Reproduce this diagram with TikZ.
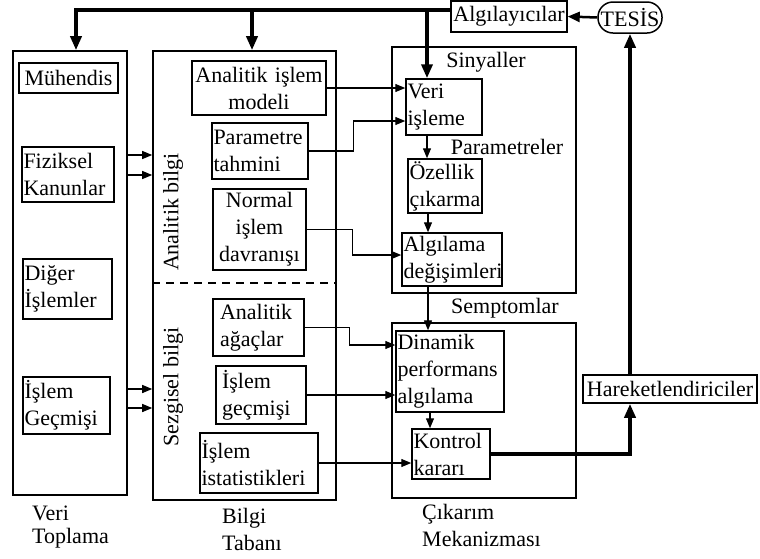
\documentclass[tikz,border=0pt]{standalone}
\usepackage{fontspec}
\setmainfont{Liberation Serif}
\usetikzlibrary{arrows.meta,positioning}

\begin{document}
\begin{tikzpicture}[
    x=1pt, y=-1pt,
    font=\fontsize{22}{27}\selectfont,
    frame/.style={draw, line width=1.6pt, inner sep=0pt},
    cell/.style={draw, line width=1.5pt, inner xsep=1.5pt, inner ysep=2pt, align=left},
    ccell/.style={cell, align=center},
    lbl/.style={inner sep=0pt, align=left},
    arr/.style={-{Triangle[length=10pt,width=8pt]}, line width=1.3pt},
    bus/.style={-{Triangle[length=14pt,width=11pt]}, line width=3.5pt},
  ]
  \useasboundingbox (0,0) rectangle (760,558);
  % outer frames
  \node[frame, minimum width=114, minimum height=444] (toplama) at (70,273) {};
  \node[frame, minimum width=183, minimum height=449] (taban) at (244.5,275.5) {};
  \node[frame, minimum width=184, minimum height=246] (sinyalkutu) at (484,170) {};
  \node[frame, minimum width=184, minimum height=175] (cikarimkutu) at (484,410.5) {};
  % veri toplama
  \node[ccell, text width=96pt, minimum height=30] (muh) at (68.5,78) {Mühendis};
  \node[cell, text width=89pt, minimum height=55] (fizik) at (68,174.5) {Fiziksel\\Kanunlar};
  \node[cell, text width=86pt, minimum height=60] (diger) at (67.5,289) {Diğer\\İşlemler};
  \node[cell, text width=84pt, minimum height=57] (gecmis) at (66.5,405.5) {İşlem\\Geçmişi};
  % bilgi tabani
  \node[ccell, text width=131pt, minimum height=54] (model) at (259,88) {Analitik işlem\\modeli};
  \node[cell, text width=93pt, minimum height=56] (param) at (260,151) {Parametre\\tahmini};
  \node[ccell, text width=90pt, minimum height=81] (normal) at (259.5,229.5) {Normal\\işlem\\davranışı};
  \node[cell, inner xsep=7pt, text width=77pt, minimum height=57] (agac) at (258.5,327.5) {Analitik\\ağaçlar};
  \node[cell, inner xsep=6pt, text width=78pt, minimum height=58] (igecmis) at (261,395) {İşlem\\geçmişi};
  \node[cell, text width=115pt, minimum height=60] (istat) at (259,463) {İşlem\\istatistikleri};
  \node[rotate=90] (analitik) at (173,212) {Analitik bilgi};
  \node[rotate=90] (sezgisel) at (173,387) {Sezgisel bilgi};
  \draw[line width=1.3pt, dash pattern=on 8pt off 6pt] (taban.west |- 0,283) -- (taban.east |- 0,283);
  % cikarim mekanizmasi
  \node[cell, text width=73pt, minimum height=56] (veriisl) at (444,107) {Veri\\işleme};
  \node[cell, text width=71pt, minimum height=54] (ozellik) at (445,186) {Özellik\\çıkarma};
  \node[cell, text width=97pt, minimum height=53] (algilama) at (452,259.5) {Algılama\\değişimleri};
  \node[cell, text width=105pt, minimum height=81] (dinamik) at (450,371.5) {Dinamik\\performans\\algılama};
  \node[cell, text width=75pt, minimum height=50] (kontrol) at (451,454) {Kontrol\\kararı};
  \node (sinyaller) at (486,62) {Sinyaller};
  \node (parametreler) at (507,147) {Parametreler};
  \node (semptomlar) at (505,308) {Semptomlar};
  % tesis, algilayicilar, hareketlendiriciler
  \node[ccell, text width=113pt, minimum height=31] (algilayici) at (509,16.5) {Algılayıcılar};
  \node[draw, line width=1.5pt, rounded corners=15pt, minimum width=64, minimum height=31, inner sep=2pt] (tesis) at (630,17.5) {TESİS};
  \node[ccell, text width=171pt, minimum height=28] (hareket) at (670,389) {Hareketlendiriciler};
  % alt basliklar
  \node[lbl, anchor=north west] (veri) at (32,506) {Veri\\[-4pt]Toplama};
  \node[lbl, anchor=north west] (bilgi) at (222,508) {Bilgi\\Tabanı};
  \node[lbl, anchor=north west] (cikarim) at (422,504) {Çıkarım\\Mekanizması};
  % ana geri besleme hatti
  \coordinate (hat) at (0,10);
  \draw[bus] (algilayici.west |- hat) -| ([xshift=6pt]toplama.north);
  \draw[bus] ([xshift=7.5pt]taban.north |- hat) -- ([xshift=7.5pt]taban.north);
  \draw[bus] ([xshift=-17pt]veriisl.north |- hat) -- ([xshift=-17pt]veriisl.north);
  \draw[-{Triangle[length=12pt,width=10pt]}, line width=2.5pt] (tesis.west) -- (algilayici.east);
  \draw[bus] (kontrol.east) -| (tesis.south |- hareket.south);
  \draw[bus] (tesis.south |- hareket.north) -- (tesis.south);
  % veri toplama -> bilgi tabani
  \foreach \yy in {155,175,389,408}
    \draw[arr] (toplama.east |- 0,\yy) -- (taban.west |- 0,\yy);
  % bilgi tabani -> cikarim
  \draw[arr] (model.east) -- (model.east -| veriisl.west);
  \draw[arr] (param.east) -- ++(45,0) |- ([yshift=-14pt]veriisl.west);
  \draw[arr] (normal.east) -- ++(46,0) |- ([yshift=4.5pt]algilama.west);
  \draw[arr] (agac.east) -- ++(45,0) |- ([yshift=26.5pt]dinamik.west);
  \draw[arr] (igecmis.east) -- (igecmis.east -| dinamik.west);
  \draw[arr] (istat.east) -- (istat.east -| kontrol.west);
  % ic akis
  \draw[arr] ([xshift=-17pt]veriisl.south) -- ([xshift=-17pt]veriisl.south |- ozellik.north);
  \draw[arr] ([xshift=-17pt]ozellik.south) -- ([xshift=-17pt]ozellik.south |- algilama.north);
  \draw[arr] ([xshift=-24pt]algilama.south) -- ([xshift=-24pt]algilama.south |- dinamik.north);
  \draw[arr] ([xshift=-20pt]dinamik.south) -- ([xshift=-20pt]dinamik.south |- kontrol.north);
\end{tikzpicture}
\end{document}
